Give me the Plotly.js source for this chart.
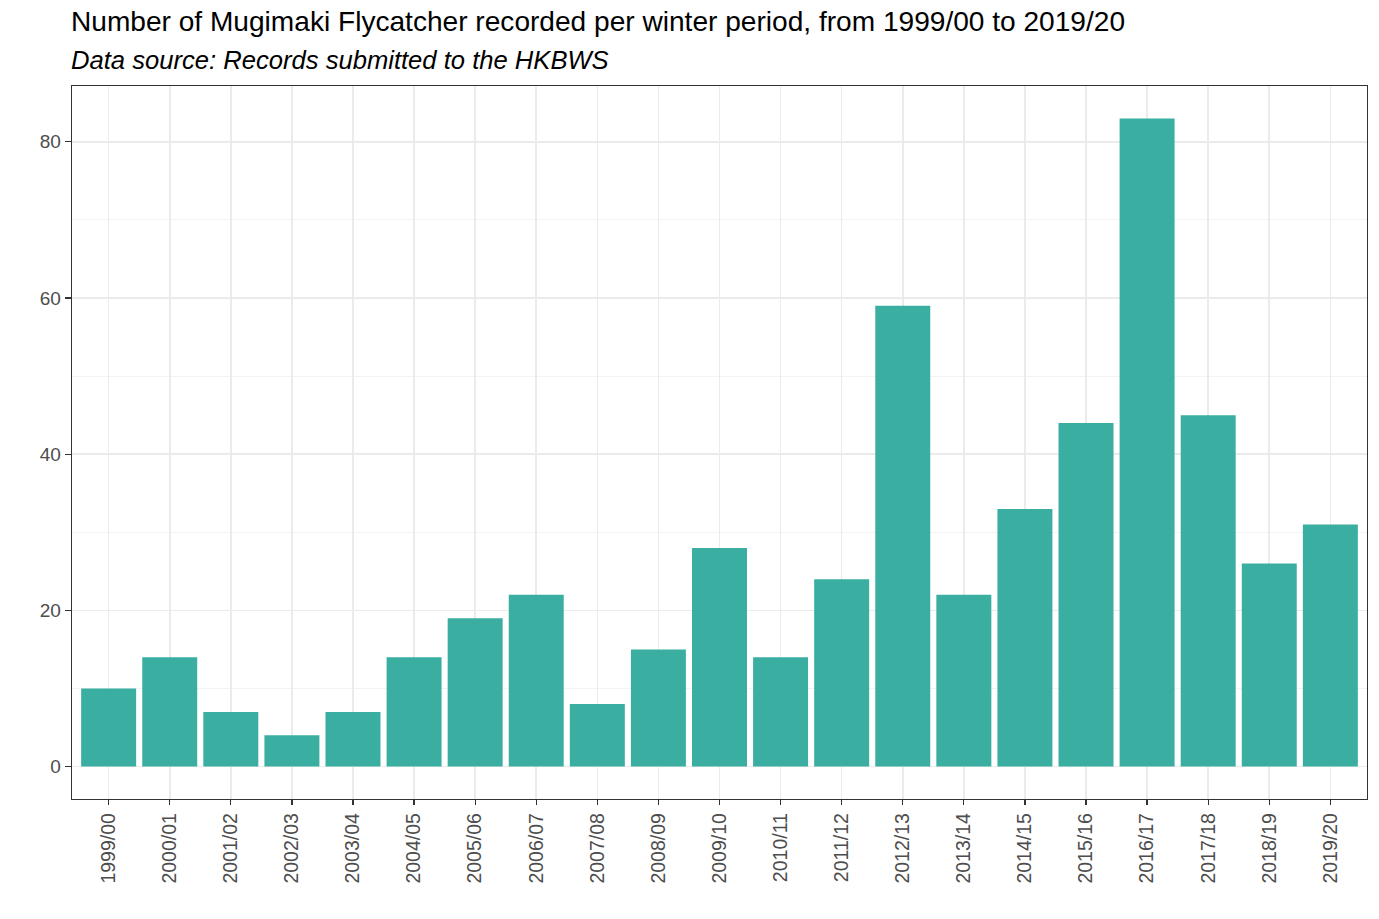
<!DOCTYPE html>
<html>
<head>
<meta charset="utf-8">
<script src="https://cdn.plot.ly/plotly-3.0.1.min.js"></script>
<style>html,body{margin:0;padding:0;background:#fff;}#chart{width:1379px;height:919px;}</style>
</head>
<body>
<div id="chart"></div>
<script>
const seasons = ["1999/00","2000/01","2001/02","2002/03","2003/04","2004/05","2005/06","2006/07","2007/08","2008/09","2009/10","2010/11","2011/12","2012/13","2013/14","2014/15","2015/16","2016/17","2017/18","2018/19","2019/20"];
const counts = [10,14,7,4,7,14,19,22,8,15,28,14,24,59,22,33,44,83,45,26,31];
const yTicks = [0,20,40,60,80];
const titleText = "Number of Mugimaki Flycatcher recorded per winter period, from 1999/00 to 2019/20";
const subtitleText = "Data source: Records submitted to the HKBWS";

const trace = {
  type: 'bar',
  x: seasons,
  y: counts,
  marker: {color: '#3aaea1'},
  hoverinfo: 'x+y'
};

const font = "'Liberation Sans', Arial, sans-serif";
const layout = {
  width: 1379, height: 919,
  margin: {l: 72, r: 12, t: 86, b: 120},
  paper_bgcolor: '#fff', plot_bgcolor: '#fff',
  bargap: 0.1,
  showlegend: false,
  font: {family: font, color: '#4d4d4d'},
  xaxis: {
    type: 'category',
    range: [-0.6, 20.6],
    tickangle: -90,
    tickfont: {size: 19.5, color: '#4d4d4d'},
    showgrid: true, gridcolor: '#ebebeb', gridwidth: 1.6,
    showline: true, linecolor: '#333', linewidth: 1.3, mirror: true,
    ticks: 'outside', ticklen: 5, tickcolor: '#333', tickwidth: 1.3,
    zeroline: false
  },
  yaxis: {
    range: [-4.15, 87.15],
    tickvals: yTicks,
    ticktext: yTicks.map(String),
    tickfont: {size: 19, color: '#4d4d4d'},
    showgrid: true, gridcolor: '#ebebeb', gridwidth: 1.6,
    minor: {tickvals: [10,30,50,70], showgrid: true, gridcolor: '#f3f3f3', gridwidth: 1, ticks: ''},
    showline: true, linecolor: '#333', linewidth: 1.3, mirror: true,
    ticks: 'outside', ticklen: 6, tickcolor: '#333', tickwidth: 1.3,
    zeroline: false
  },
  annotations: [
    {text: titleText, xref: 'paper', yref: 'paper', x: 0, xshift: -3, y: 1.0898, xanchor: 'left', yanchor: 'middle',
     showarrow: false, font: {family: font, size: 28.1, color: '#000'}},
    {text: '<i>' + subtitleText + '</i>', xref: 'paper', yref: 'paper', x: 0, xshift: -3, y: 1.0365, xanchor: 'left', yanchor: 'middle',
     showarrow: false, font: {family: font, size: 25.6, color: '#000'}}
  ]
};

Plotly.newPlot('chart', [trace], layout, {displayModeBar: false, staticPlot: true});
</script>
</body>
</html>
